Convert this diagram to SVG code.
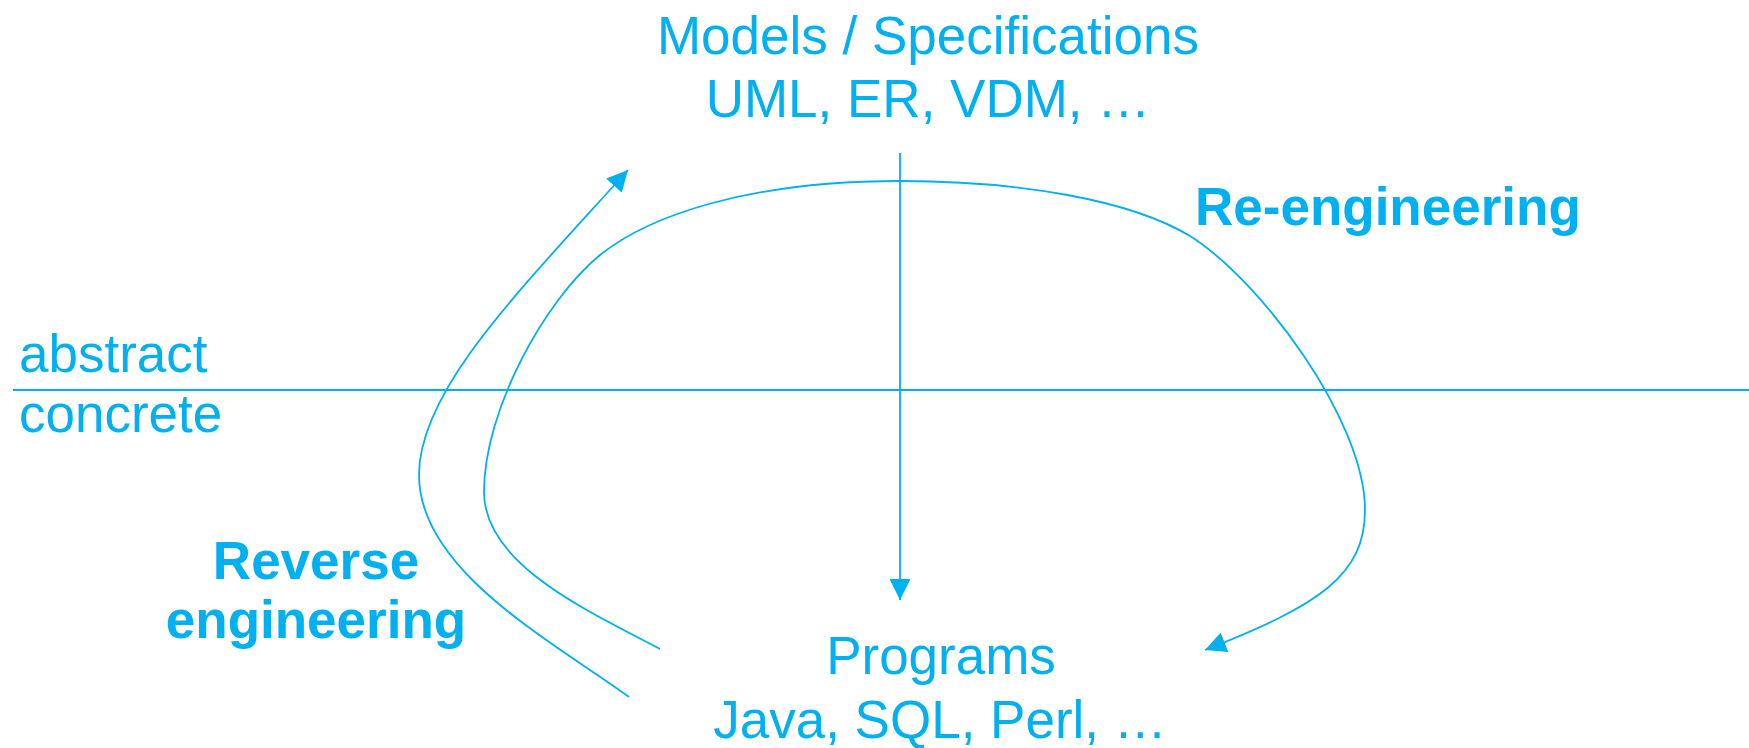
<svg xmlns="http://www.w3.org/2000/svg" width="1749" height="748" viewBox="0 0 1749 748">
<style>
.t{font-family:"Liberation Sans",Arial,sans-serif;font-size:53px;fill:#00B0F0}
.b{font-weight:bold}
.c{fill:none;stroke:#00B0F0;stroke-width:1.8}
</style>
<defs>
<marker id="ah" markerUnits="userSpaceOnUse" markerWidth="21" markerHeight="21" refX="20" refY="10" orient="auto" viewBox="0 0 20 20">
<path d="M0,0 L20,10 L0,20 z" fill="#00B0F0"/>
</marker>
</defs>
<rect width="1749" height="748" fill="#fff"/>
<g id="divider">
<line x1="13" y1="390" x2="1749" y2="390" stroke="#00B0F0" stroke-width="2"/>
<text class="t" x="19" y="372">abstract</text>
<text class="t" x="19" y="432">concrete</text>
</g>
<g id="models">
<text class="t" x="928" y="54" text-anchor="middle">Models / Specifications</text>
<text class="t" x="928" y="117" text-anchor="middle">UML, ER, VDM, …</text>
</g>
<g id="programs">
<text class="t" x="941" y="674" text-anchor="middle">Programs</text>
<text class="t" x="940" y="738" text-anchor="middle">Java, SQL, Perl, …</text>
</g>
<g id="reengineering-label">
<text class="t b" x="1195" y="225">Re-engineering</text>
</g>
<g id="reverse-label">
<text class="t b" x="316" y="579" text-anchor="middle">Reverse</text>
<text class="t b" x="316" y="638" text-anchor="middle">engineering</text>
</g>
<g id="connectors">
<line class="c" x1="900" y1="153" x2="900" y2="600" marker-end="url(#ah)"/>
<path class="c" d="M629,697 C550,640 419,570 419,475 C419,390 520,290 628,170" marker-end="url(#ah)"/>
<path class="c" d="M660,649 C590,612 484,565 484,492 C484,410 545,300 600,255 C650,215 750,181 900,181 C1020,181 1130,200 1190,236 C1260,280 1365,420 1365,510 C1365,575 1320,605 1205,650" marker-end="url(#ah)"/>
</g>
</svg>
